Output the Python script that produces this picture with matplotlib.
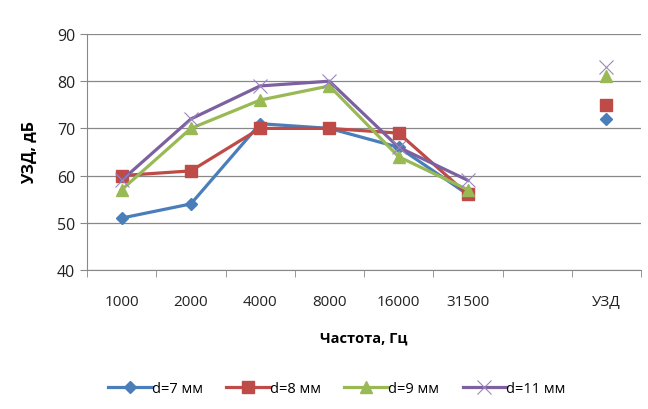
import matplotlib
matplotlib.use("Agg")
import matplotlib.pyplot as plt
import numpy as np

categories = ['1000', '2000', '4000', '8000', '16000', '31500', '', 'УЗД']
nan = np.nan
d7 = [51, 54, 71, 70, 66, 56, nan, 72]
d8 = [60, 61, 70, 70, 69, 56, nan, 75]
d9 = [57, 70, 76, 79, 64, 57, nan, 81]
d11 = [59, 72, 79, 80, 66, 59, nan, 83]
labels = ['d=7 мм', 'd=8 мм', 'd=9 мм', 'd=11 мм']

plt.rcParams['font.family'] = ['Open Sans', 'DejaVu Sans']

colors = ['#4A7EBB', '#BE4B48', '#98B954', '#7D60A0']
markers = ['D', 's', '^', 'x']
msizes = [6, 9, 9, 10]

fig = plt.figure(figsize=(6.48, 4.10), dpi=100)
ax = fig.add_axes([87 / 648, 1 - 271 / 410, (641 - 87) / 648, (271 - 35) / 410])

x = np.arange(len(categories))
for vals, c, m, ms, lab in zip([d7, d8, d9, d11], colors, markers, msizes, labels):
    if m == 'x':
        ax.plot(x, vals, color=c, lw=2.3, marker=m, markersize=ms,
                markeredgewidth=0.8, markeredgecolor='#9A86BE', label=lab, zorder=3)
    else:
        ax.plot(x, vals, color=c, lw=2.3, marker=m, markersize=ms,
                markeredgewidth=1.0, label=lab, zorder=3)

ax.set_xlim(-0.5, len(categories) - 0.5)
ax.set_ylim(40, 90)
ax.set_yticks(range(40, 91, 10))
ax.grid(axis='y', color='#888888', lw=0.9)
ax.set_axisbelow(True)

ax.set_xticks(x)
ax.set_xticklabels(categories, fontsize=11, color='#222222')
ax.set_xticks(np.arange(-0.5, len(categories), 1), minor=True)
ax.tick_params(axis='x', which='major', length=0, pad=17)
ax.tick_params(axis='x', which='minor', length=5, color='#888888')
ax.tick_params(axis='y', length=5, color='#888888', labelsize=11.5, labelcolor='#222222')

for s in ['top', 'right']:
    ax.spines[s].set_visible(False)
ax.spines['left'].set_color('#888888')
ax.spines['bottom'].set_color('#888888')

ax.set_ylabel('УЗД, дБ', fontsize=11.5, fontweight='bold', labelpad=14)
ax.set_xlabel('Частота, Гц', fontsize=10.5, fontweight='bold', labelpad=16)

fig.legend(loc='lower center', bbox_to_anchor=(0.52, 0.0), ncol=4, frameon=False,
           fontsize=10.5, handlelength=3.0, columnspacing=1.6, handletextpad=0.0)

fig.savefig('out.png', dpi=100)
